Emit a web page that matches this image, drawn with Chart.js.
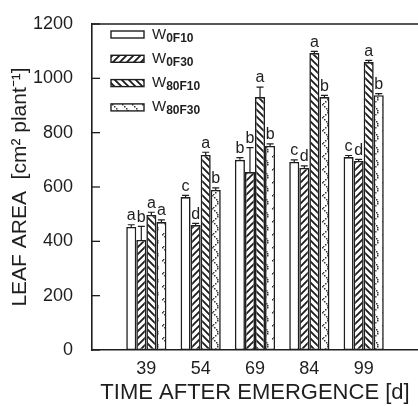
<!DOCTYPE html>
<html>
<head>
<meta charset="utf-8">
<script src="https://cdn.jsdelivr.net/npm/chart.js@4.4.0/dist/chart.umd.min.js"></script>
<style>
  html, body { margin: 0; padding: 0; background: #fff; }
  #wrap { width: 418px; height: 406px; position: relative; }
</style>
</head>
<body>
<div id="wrap"><canvas id="chart"></canvas></div>
<script>
// days after emergence (blank slots pad the axis on both ends)
const days = ['', '39', '54', '69', '84', '99', ''];

// leaf area, cm2 per plant
const w0f10 = [null, 453, 563, 700, 692, 710, null];
const w0f30 = [null, 405, 460, 655, 670, 696, null];
const w80f10 = [null, 497, 718, 931, 1093, 1060, null];
const w80f30 = [null, 471, 589, 751, 931, 938, null];

// upper error bars
const err0f10 = [0, 8, 6, 8, 8, 6, 0];
const err0f30 = [0, 50, 6, 90, 8, 6, 0];
const err80f10 = [0, 10, 10, 37, 6, 6, 0];
const err80f30 = [0, 8, 8, 8, 6, 6, 0];

// significance letters
const let0f10 = ['', 'a', 'c', 'b', 'c', 'c', ''];
const let0f30 = ['', 'b', 'd', 'b', 'd', 'd', ''];
const let80f10 = ['', 'a', 'a', 'a', 'a', 'a', ''];
const let80f30 = ['', 'a', 'b', 'b', 'b', 'b', ''];

const legendMain = ['W', 'W', 'W', 'W'];
const legendSub = ['0F10', '0F30', '80F10', '80F30'];

const yTicks = [0, 200, 400, 600, 800, 1000, 1200];

const INK = '#1e1e1e';
const FONT = 'Arial, "Liberation Sans", sans-serif';

function hatch(dir) {
  const s = 7;
  const c = document.createElement('canvas');
  c.width = s; c.height = s;
  const g = c.getContext('2d');
  g.fillStyle = '#fff';
  g.fillRect(0, 0, s, s);
  g.strokeStyle = INK;
  g.lineWidth = 1.9;
  g.beginPath();
  if (dir > 0) {
    g.moveTo(0, s); g.lineTo(s, 0);
    g.moveTo(-1, 1); g.lineTo(1, -1);
    g.moveTo(s - 1, s + 1); g.lineTo(s + 1, s - 1);
  } else {
    g.moveTo(0, 0); g.lineTo(s, s);
    g.moveTo(-1, s - 1); g.lineTo(1, s + 1);
    g.moveTo(s - 1, -1); g.lineTo(s + 1, 1);
  }
  g.stroke();
  return g.createPattern(c, 'repeat');
}

function dotted() {
  const w = 10, h = 13;
  const c = document.createElement('canvas');
  c.width = w; c.height = h;
  const g = c.getContext('2d');
  g.fillStyle = '#fff';
  g.fillRect(0, 0, w, h);
  g.fillStyle = '#333';
  for (let y = 0; y < h; y += 2) {
    const x = 2 + 5 * Math.sin(Math.PI * y / h);
    g.fillRect(Math.round(x), y, 1.5, 1.5);
  }
  return g.createPattern(c, 'repeat');
}

const fills = ['#fff', hatch(1), hatch(-1), dotted()];
const values = [w0f10, w0f30, w80f10, w80f30];
const errors = [err0f10, err0f30, err80f10, err80f30];
const letters = [let0f10, let0f30, let80f10, let80f30];

const extras = {
  id: 'extras',
  afterDatasetsDraw(chart) {
    const ctx = chart.ctx;
    const y = chart.scales.y;
    ctx.save();
    ctx.strokeStyle = INK;
    ctx.fillStyle = INK;
    ctx.lineWidth = 1.2;
    ctx.font = '16px ' + FONT;
    ctx.textAlign = 'center';
    ctx.textBaseline = 'bottom';
    values.forEach((vals, i) => {
      const meta = chart.getDatasetMeta(i);
      meta.data.forEach((bar, j) => {
        if (vals[j] == null) return;
        const top = y.getPixelForValue(vals[j] + errors[i][j]);
        ctx.beginPath();
        ctx.moveTo(bar.x, bar.y);
        ctx.lineTo(bar.x, top);
        ctx.moveTo(bar.x - 3.5, top);
        ctx.lineTo(bar.x + 3.5, top);
        ctx.stroke();
        ctx.fillText(letters[i][j], bar.x, top - 1);
      });
    });
    ctx.restore();
  },
  afterDraw(chart) {
    const ctx = chart.ctx;
    const a = chart.chartArea;
    const y = chart.scales.y;
    ctx.save();
    ctx.strokeStyle = INK;
    ctx.lineWidth = 1.6;
    // frame top
    ctx.beginPath();
    ctx.moveTo(a.left, a.top);
    ctx.lineTo(a.right, a.top);
    ctx.stroke();
    // inner ticks on the y axis
    ctx.lineWidth = 1.3;
    yTicks.forEach(v => {
      const p = y.getPixelForValue(v);
      ctx.beginPath();
      ctx.moveTo(a.left, p);
      ctx.lineTo(a.left + 8, p);
      ctx.stroke();
    });
    // legend
    const bx = 111, bw = 33, bh = 7;
    for (let i = 0; i < 4; i++) {
      const cy = 34.5 + i * 24.3;
      ctx.fillStyle = fills[i];
      ctx.fillRect(bx, cy - bh / 2, bw, bh);
      ctx.lineWidth = 1.4;
      ctx.strokeRect(bx, cy - bh / 2, bw, bh);
      ctx.fillStyle = INK;
      ctx.textAlign = 'left';
      ctx.textBaseline = 'alphabetic';
      ctx.font = '15px ' + FONT;
      ctx.fillText(legendMain[i], 152, cy + 4);
      const ww = ctx.measureText(legendMain[i]).width;
      ctx.font = 'bold 12px ' + FONT;
      ctx.fillText(legendSub[i], 152 + ww, cy + 7);
    }
    ctx.restore();
  }
};

new Chart(document.getElementById('chart'), {
  type: 'bar',
  data: {
    labels: days,
    datasets: values.map((v, i) => ({
      label: legendMain[i] + legendSub[i],
      data: v,
      backgroundColor: fills[i],
      borderColor: INK,
      borderWidth: 1.6,
      borderSkipped: false,
      categoryPercentage: 0.74,
      barPercentage: 1
    }))
  },
  options: {
    responsive: true,
    maintainAspectRatio: false,
    animation: false,
    layout: { padding: { top: 24, right: 0, left: 0, bottom: 0 } },
    plugins: { legend: { display: false }, tooltip: { enabled: false } },
    scales: {
      x: {
        offset: false,
        grid: { display: true, drawOnChartArea: false, drawTicks: true, tickLength: 8, color: 'rgba(0,0,0,0)' },
        border: { display: true, color: INK, width: 1.6 },
        ticks: { color: INK, font: { size: 18, family: FONT }, padding: 0, maxRotation: 0, autoSkip: false },
        title: { display: true, text: 'TIME AFTER EMERGENCE [d]', color: INK, font: { size: 22, family: FONT }, padding: { top: 0, bottom: 0 } },
        afterFit(s) { s.height = 56; }
      },
      y: {
        min: 0,
        max: 1200,
        grid: { display: false },
        border: { display: true, color: INK, width: 1.6 },
        ticks: { stepSize: 200, color: INK, font: { size: 18, family: FONT }, padding: 11, callback: v => String(v) },
        title: { display: true, text: 'LEAF AREA  [cm\u00b2 plant\u207b\u00b9]', color: INK, font: { size: 21, family: FONT }, padding: { top: 8, bottom: 0 } },
        afterFit(s) { s.width = 92; }
      }
    }
  },
  plugins: [extras]
});
</script>
</body>
</html>
